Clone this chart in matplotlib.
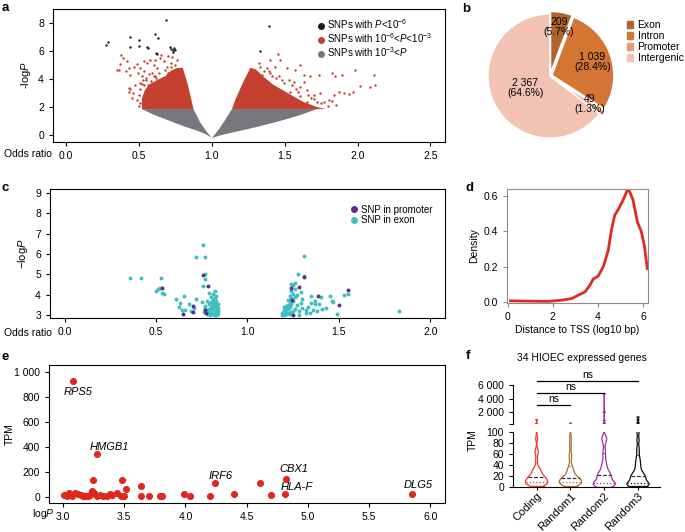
import numpy as np
import matplotlib
matplotlib.use('Agg')
from matplotlib import pyplot as plt
from matplotlib.patches import Patch
from matplotlib.lines import Line2D

plt.rcParams['font.family'] = ['Liberation Sans', 'DejaVu Sans']
plt.rcParams['mathtext.fontset'] = 'custom'
plt.rcParams['mathtext.rm'] = 'Liberation Sans'
plt.rcParams['mathtext.it'] = 'Liberation Sans:italic'
plt.rcParams['axes.linewidth'] = 0.8
plt.rcParams['xtick.major.width'] = 0.8
plt.rcParams['ytick.major.width'] = 0.8
plt.rcParams['xtick.major.size'] = 3
plt.rcParams['ytick.major.size'] = 3
plt.rcParams['xtick.labelsize'] = 7.5
plt.rcParams['ytick.labelsize'] = 7.5

# ---------------- data ----------------
# panel a: volcano plot (dense areas given as outlines, sparse points listed)
a_gray_x = [0.52, 0.60, 0.70, 0.80, 0.90, 0.96, 1.00, 1.05, 1.15, 1.30, 1.45, 1.60, 1.72,
            1.138, 1.08, 1.04, 1.00, 0.96, 0.92, 0.874]
a_gray_y = [1.85, 1.45, 1.05, 0.65, 0.30, 0.05, -0.22, -0.05, 0.20, 0.55, 0.95, 1.40, 1.85,
            1.85, 0.9, 0.3, -0.22, 0.3, 0.9, 1.85]
a_redL_x = [0.52, 0.52, 0.54, 0.57, 0.62, 0.68, 0.72, 0.76, 0.80, 0.815, 0.835, 0.855, 0.874]
a_redL_y = [1.85, 2.6, 3.2, 3.6, 3.9, 4.2, 4.6, 4.78, 4.8, 4.3, 3.6, 2.7, 1.85]
a_redR_x = [1.138, 1.16, 1.19, 1.22, 1.25, 1.264, 1.30, 1.35, 1.42, 1.52, 1.62, 1.72, 1.78]
a_redR_y = [1.85, 2.5, 3.2, 3.9, 4.5, 4.8, 4.7, 4.2, 3.6, 3.0, 2.4, 2.0, 1.85]
a_red_x = [0.375, 0.389, 0.371, 0.366, 0.421, 0.428, 0.412, 0.44, 0.467, 0.486, 0.508, 0.49,
           0.52, 0.536, 0.554, 0.577, 0.6, 0.623, 0.589, 0.549, 0.508, 0.474, 0.44, 0.462,
           0.497, 0.486, 0.508, 0.531, 0.611, 0.646, 0.673, 0.692, 0.719, 0.749, 0.76, 0.65,
           0.696, 0.726, 0.6, 0.565, 0.428, 0.451, 0.352, 0.43, 0.52, 0.53, 0.55, 0.58, 0.61,
           0.64, 0.66, 0.70, 0.72, 0.68, 0.62, 0.57, 0.51, 0.50, 0.535, 0.545,
           1.451, 1.47, 1.401, 1.321, 1.378, 1.435, 1.516, 1.573, 1.602, 1.63, 1.676, 1.733,
           1.825, 1.848, 1.894, 1.985, 2.111, 2.019, 2.083, 2.122, 1.968, 1.904, 1.836, 1.801,
           1.767, 1.722, 1.698, 1.653, 1.607, 1.561, 1.527, 1.493, 1.744, 1.825, 1.607, 1.653,
           1.538, 1.47, 1.63, 1.344, 1.413, 1.87, 1.939, 1.36, 1.40, 1.44, 1.48, 1.55, 1.58,
           1.66, 1.70, 1.75, 1.80, 1.85, 1.46, 1.33, 1.39, 1.59, 1.68]
a_red_y = [5.73, 5.49, 5.06, 4.66, 5.25, 4.78, 4.54, 4.30, 4.89, 5.06, 4.78, 4.42,
           4.18, 4.54, 5.13, 5.37, 5.01, 4.78, 4.42, 3.94, 3.70, 3.58, 3.30, 2.99,
           2.87, 2.51, 2.27, 5.25, 5.37, 5.49, 5.25, 4.89, 5.13, 5.01, 5.37, 5.73,
           5.61, 5.54, 4.18, 3.58, 3.10, 2.63, 4.66, 3.33, 3.65, 3.95, 4.05, 3.85, 4.20,
           4.45, 3.95, 4.40, 4.85, 4.65, 4.05, 4.35, 3.25, 2.05, 3.55, 3.15,
           5.78, 5.37, 5.37, 5.13, 4.78, 4.89, 4.78, 4.66, 5.01, 4.30, 4.18, 4.30,
           4.42, 4.18, 4.25, 4.61, 4.25, 3.53, 3.46, 3.58, 3.06, 2.99, 2.87, 2.51,
           2.34, 2.39, 2.87, 3.22, 3.46, 3.82, 3.94, 3.70, 2.99, 2.44, 2.75, 2.39,
           3.10, 3.22, 3.77, 4.30, 4.18, 3.06, 2.92, 4.55, 4.45, 4.05, 3.90, 3.60, 3.30,
           2.85, 2.55, 2.25, 2.05, 2.15, 4.20, 4.85, 4.60, 3.05, 2.65]
a_black_x = [0.272, 0.286, 0.435, 0.44, 0.50, 0.50, 0.558, 0.56, 0.611, 0.632, 0.62, 0.625,
             0.685, 0.71, 0.72, 0.73, 0.74, 0.735, 0.745, 1.39, 1.33]
a_black_y = [6.45, 6.61, 6.97, 6.25, 6.76, 6.33, 6.30, 6.20, 7.21, 6.93, 5.85, 5.75,
             8.24, 6.30, 6.15, 6.05, 6.20, 5.95, 6.05, 7.76, 5.97]

# panel b: pie
b_labels = ['Exon', 'Intron', 'Promoter', 'Intergenic']
b_counts = [209, 1039, 49, 2367]
b_pct = [5.7, 28.4, 1.3, 64.6]

# panel c: SNPs in promoter / exon
c_exon_x = [0.83, 0.82, 0.84, 0.81, 0.80, 0.83, 0.79, 0.82, 0.84, 0.80, 0.78, 0.83, 0.81, 0.79,
            0.84, 0.82, 0.80, 0.83, 0.77, 0.81, 0.84, 0.79, 0.82, 0.80, 0.83, 0.78, 0.81, 0.82,
            0.80, 0.83, 0.81, 0.79, 0.82, 0.80, 0.78, 0.76, 0.77, 0.82, 0.835, 0.805, 0.795,
            0.356, 0.42, 0.528, 0.502, 0.542, 0.52, 0.51, 0.535, 0.608, 0.623, 0.654, 0.66,
            0.72, 0.749, 0.758, 0.718, 0.768, 0.77, 0.77, 0.755, 0.69, 0.64, 0.68, 0.71, 0.63,
            1.19, 1.20, 1.21, 1.19, 1.22, 1.20, 1.23, 1.24, 1.21, 1.20, 1.22, 1.25, 1.21, 1.23,
            1.26, 1.22, 1.24, 1.21, 1.23, 1.25, 1.22, 1.24, 1.26, 1.23, 1.25, 1.24, 1.26, 1.25,
            1.26, 1.27, 1.28, 1.29, 1.27, 1.30, 1.28, 1.32, 1.30, 1.33, 1.35, 1.36, 1.38, 1.37,
            1.39, 1.29, 1.20,
            1.31, 1.275, 1.31, 1.24, 1.35, 1.40, 1.45, 1.47, 1.49, 1.53, 1.55, 1.826, 1.32,
            1.34, 1.37, 1.46, 1.41, 1.43]
c_exon_y = [3.00, 3.02, 3.05, 3.05, 3.08, 3.10, 3.12, 3.15, 3.18, 3.20, 3.22, 3.25, 3.28, 3.30,
            3.32, 3.36, 3.40, 3.45, 3.45, 3.50, 3.55, 3.55, 3.60, 3.65, 3.70, 3.70, 3.75, 3.85,
            3.90, 3.95, 4.05, 4.10, 4.20, 3.35, 3.05, 3.15, 3.30, 3.00, 3.40, 3.60, 3.00,
            4.81, 4.81, 4.81, 4.20, 4.05, 4.35, 4.30, 4.10, 3.77, 3.40, 3.93, 3.25,
            3.80, 3.66, 6.45, 5.84, 5.84, 5.00, 4.75, 4.42, 3.20, 3.25, 3.55, 3.35, 3.60,
            3.00, 3.02, 3.05, 3.08, 3.10, 3.15, 3.05, 3.12, 3.20, 3.25, 3.30, 3.20, 3.35, 3.40,
            3.30, 3.50, 3.55, 3.45, 3.65, 3.70, 3.75, 3.85, 3.90, 3.95, 4.05, 4.20, 4.30, 4.45,
            4.55, 3.50, 3.20, 3.60, 4.00, 3.35, 3.00, 3.10, 3.80, 3.40, 3.60, 3.25, 3.20, 3.70,
            3.55, 4.15, 3.38,
            5.90, 5.00, 4.92, 4.50, 3.93, 3.90, 3.93, 3.66, 3.05, 4.00, 4.05, 3.20, 3.25,
            3.08, 3.55, 3.70, 3.30, 3.35]
c_prom_x = [0.53, 0.758, 0.784, 0.703, 0.648, 0.70, 0.767, 0.772,
            1.237, 1.279, 1.31, 1.242, 1.383, 1.50, 1.552, 1.25]
c_prom_y = [4.31, 4.97, 4.40, 3.45, 3.05, 3.12, 3.24, 3.08,
            4.31, 4.36, 4.86, 3.74, 3.94, 3.49, 4.22, 2.99]

# panel d: density of distance to TSS
d_x = [0.12, 0.6, 1.2, 1.8, 2.4, 2.84, 3.13, 3.43, 3.65, 3.79, 4.01, 4.24, 4.46, 4.6,
       4.75, 4.93, 5.12, 5.31, 5.41, 5.56, 5.75, 5.93, 6.07, 6.19]
d_y = [0.006, 0.005, 0.004, 0.003, 0.010, 0.019, 0.038, 0.057, 0.095, 0.129, 0.146, 0.199,
       0.293, 0.407, 0.492, 0.530, 0.577, 0.634, 0.625, 0.577, 0.454, 0.397, 0.312, 0.189]

# panel e: TPM vs logP
e_logp = [3.084, 3.28, 4.243, 4.823, 4.815, 5.854, 4.61, 4.70, 4.40, 4.20, 4.04, 3.99,
          3.81, 3.79, 3.70, 3.64, 3.64, 3.515, 3.48, 3.50, 3.44, 3.38, 3.36, 3.33, 3.28,
          3.25, 3.24, 3.245, 3.18, 3.15, 3.10, 3.05, 3.01, 3.03, 3.07, 3.12, 3.20, 3.30,
          3.40, 3.47, 3.16, 3.22]
e_tpm = [925, 345, 110, 141, 21, 27, 112, 16, 21, 5, 5, 22,
         10, 10, 12, 88, 5, 66, 136, 12, 30, 21, 10, 8, 12,
         30, 48, 136, 5, 20, 30, 30, 15, 12, 10, 22, 8, 14,
         18, 10, 6, 18]
e_names = ['RPS5', 'HMGB1', 'IRF6', 'CBX1', 'HLA-F', 'DLG5']

# panel f: violin data (TPM of 34 genes per group)
f_groups = ['Coding', 'Random1', 'Random2', 'Random3']
f_coding = [2, 3, 4, 5, 5, 6, 7, 8, 9, 10, 10, 12, 13, 15, 16, 17, 17, 18, 20, 22, 25, 28,
            30, 32, 35, 48, 62, 66, 88, 110, 136, 141, 345, 920]
f_random1 = [1, 2, 3, 4, 5, 6, 7, 8, 8, 9, 10, 11, 12, 13, 14, 15, 15, 16, 18, 20, 22, 25,
             28, 30, 34, 40, 52, 60, 75, 90, 120, 180, 300, 420]
f_random2 = [0.5, 1, 2, 3, 4, 5, 5, 6, 7, 8, 10, 12, 14, 16, 18, 20, 21, 23, 25, 28, 30, 35,
             40, 45, 55, 65, 80, 88, 90, 150, 400, 800, 2000, 4700]
f_random3 = [1, 2, 2, 3, 4, 4, 5, 5, 6, 8, 10, 12, 14, 16, 18, 19, 20, 21, 24, 27, 30, 35,
             40, 45, 50, 60, 70, 85, 100, 150, 300, 500, 900, 1300]

RED = '#c4412f'
GRAY = '#77777d'

def thousands(v):
    return '{:,}'.format(int(v)).replace(',', ' ')

fig = plt.figure(figsize=(6.85, 5.32), dpi=100)

# ---------------- a ----------------
ax = fig.add_axes([0.0774, 0.7331, 0.5723, 0.25])
ax.fill(a_gray_x, a_gray_y, color=GRAY, lw=0)
ax.fill(a_redL_x, a_redL_y, color=RED, lw=0)
ax.fill(a_redR_x, a_redR_y, color=RED, lw=0)
ax.scatter(a_red_x, a_red_y, s=3, color=RED, lw=0)
ax.scatter(a_black_x, a_black_y, s=3, color='#1a1a1a', lw=0)
ax.set_xlim(-0.09, 2.60)
ax.set_ylim(-0.5, 9.0)
ax.set_xticks([0, 0.5, 1.0, 1.5, 2.0, 2.5])
ax.set_xticklabels(['0.0', '0.5', '1.0', '1.5', '2.0', '2.5'])
ax.set_yticks([0, 2, 4, 6, 8])
ax.set_ylabel('-log$\\it{P}$', fontsize=8, labelpad=4)
h = [Line2D([], [], ls='', marker='o', ms=4, color=c) for c in ['#1a1a1a', RED, GRAY]]
ax.legend(h, ['SNPs with $\\it{P}$<10$^{-6}$', 'SNPs with 10$^{-6}$<$\\it{P}$<10$^{-3}$',
              'SNPs with 10$^{-3}$<$\\it{P}$'],
          loc='upper right', bbox_to_anchor=(0.985, 0.99), frameon=False, fontsize=7,
          handletextpad=0.1, labelspacing=0.05, borderpad=0.2, handlelength=1.2)
fig.text(52 / 685, 1 - 154 / 532, 'Odds ratio', ha='right', va='center', fontsize=7.5)

# ---------------- b ----------------
bx = fig.add_axes([(550 - 66) / 685, 1 - (76 + 66) / 532, 132 / 685, 132 / 532])
b_colors = ['#b3622b', '#d57534', '#e8997a', '#f2c2b3']
wedges, _ = bx.pie(b_counts, colors=b_colors, startangle=90, counterclock=False,
                   explode=[0.04, 0.03, 0.05, 0], radius=0.97,
                   wedgeprops=dict(edgecolor='white', linewidth=1.2))
bx.set_aspect('equal')
bx.set_xlim(-1.03, 1.03)
bx.set_ylim(-1.03, 1.03)
label_r = [0.78, 0.70, 0.76, 0.43]
for w, n, p, r in zip(wedges, b_counts, b_pct, label_r):
    ang = np.deg2rad((w.theta1 + w.theta2) / 2)
    bx.text(r * np.cos(ang), r * np.sin(ang), thousands(n) + '\n(' + str(p) + '%)',
            ha='center', va='center', fontsize=7.5, linespacing=1.0)
fig.legend([Patch(color=c) for c in b_colors], b_labels, loc='upper left',
           bbox_to_anchor=(622 / 685, 1 - 15 / 532), frameon=False, fontsize=7.5,
           handlelength=0.6, handleheight=0.6, handletextpad=0.4, labelspacing=0.1,
           borderpad=0)

# ---------------- c ----------------
cx = fig.add_axes([0.073, 0.4023, 0.5766, 0.2425])
cx.scatter(c_exon_x, c_exon_y, s=8, color='#3fbfbf', lw=0)
cx.scatter(c_prom_x, c_prom_y, s=8, color='#5b2e91', lw=0)
cx.set_xlim(-0.08, 2.08)
cx.set_ylim(2.85, 9.2)
cx.set_xticks([0, 0.5, 1.0, 1.5, 2.0])
cx.set_xticklabels(['0.0', '0.5', '1.0', '1.5', '2.0'])
cx.set_yticks([3, 4, 5, 6, 7, 8, 9])
cx.set_ylabel('\u2212log$\\it{P}$', fontsize=8, labelpad=4)
h = [Line2D([], [], ls='', marker='o', ms=4, color=c) for c in ['#5b2e91', '#3fbfbf']]
cx.legend(h, ['SNP in promoter', 'SNP in exon'], loc='upper right',
          bbox_to_anchor=(0.985, 0.93), frameon=False, fontsize=7,
          handletextpad=0.1, labelspacing=0.05, borderpad=0.2, handlelength=1.2)
fig.text(52 / 685, 1 - 333 / 532, 'Odds ratio', ha='right', va='center', fontsize=7.5)

# ---------------- d ----------------
dx = fig.add_axes([0.7401, 0.4305, 0.2058, 0.2143])
dx.plot(d_x, d_y, color='#e32a22', lw=2)
dx.set_xlim(-0.03, 6.22)
dx.set_ylim(-0.006, 0.64)
dx.set_xticks([0, 2, 4, 6])
dx.set_yticks([0, 0.2, 0.4, 0.6])
dx.set_yticklabels(['0.0', '0.2', '0.4', '0.6'])
for s in dx.spines.values():
    s.set_color('#8c8c8c')
dx.tick_params(color='#8c8c8c')
dx.set_xlabel('Distance to TSS (log10 bp)', fontsize=7.5, labelpad=2)
dx.set_ylabel('Density', fontsize=7.5, labelpad=3)

# ---------------- e ----------------
ex = fig.add_axes([0.0715, 0.0545, 0.578, 0.2594])
ex.scatter(e_logp, e_tpm, s=26, color='#e0261e', lw=0, zorder=3)
ex.set_xlim(2.885, 6.12)
ex.set_ylim(-48, 1056)
ex.set_xticks([3.0, 3.5, 4.0, 4.5, 5.0, 5.5, 6.0])
ex.set_xticklabels(['3.0', '3.5', '4.0', '4.5', '5.0', '5.5', '6.0'])
ex.set_yticks([0, 200, 400, 600, 800, 1000])
ex.set_yticklabels([thousands(v) for v in [0, 200, 400, 600, 800, 1000]])
ex.set_ylabel('TPM', fontsize=7.5)
ex.yaxis.set_label_coords(-0.085, 0.5)
offsets = [(3.4, -8), (8.4, 5), (4, 5), (5.3, 7.2), (8, 5.5), (4.5, 6.3)]
for name, off in zip(e_names, offsets):
    i = e_names.index(name)
    ex.annotate(name, (e_logp[i], e_tpm[i]), xytext=off, textcoords='offset points',
                ha='center', va='center', fontsize=8, style='italic')
fig.text(55 / 685, 1 - 514 / 532, 'log$\\it{P}$', ha='right', va='center', fontsize=7.5)

# ---------------- f ----------------
f_data = [f_coding, f_random1, f_random2, f_random3]
f_colors = ['#e8392a', '#b06a30', '#a12aa3', '#111111']
fb = fig.add_axes([0.7489, 0.0846, 0.2146, 0.1034])
ft = fig.add_axes([0.7489, 0.203, 0.2146, 0.0733])
for axf in (fb, ft):
    for i, (vals, col) in enumerate(zip(f_data, f_colors)):
        vals = np.array(vals, dtype=float)
        grid = np.linspace(vals.min(), vals.max(), 8000)
        dens = np.exp(-0.5 * ((grid[:, None] - vals[None, :]) / 5.0) ** 2).sum(1)
        dens = dens / dens.max() * 0.33
        axf.plot(i - dens, grid, color=col, lw=0.9)
        axf.plot(i + dens, grid, color=col, lw=0.9)
        axf.plot([i - dens[0], i + dens[0]], [grid[0], grid[0]], color=col, lw=0.9)
        q1, med, q3 = np.percentile(vals, [25, 50, 75])
        for q, ls, c in [(med, (0, (3, 1.5)), '#333333'), (q1, ':', col), (q3, ':', col)]:
            w = np.interp(q, grid, dens)
            axf.plot([i - w, i + w], [q, q], color=c, ls=ls, lw=0.9)
    axf.set_xlim(-0.7, 3.65)
    axf.spines['top'].set_visible(False)
    axf.spines['right'].set_visible(False)
fb.set_ylim(0, 100)
fb.set_yticks([0, 20, 40, 60, 80, 100])
fb.set_xticks(range(4))
fb.set_xticklabels(f_groups, rotation=45, ha='right', va='top', rotation_mode='anchor',
                   fontsize=8)
fb.tick_params(axis='x', length=2, pad=1)
ft.set_ylim(280, 6000)
ft.set_yticks([280, 2000, 4000, 6000])
ft.set_yticklabels(['', '2 000', '4 000', '6 000'])
ft.spines['bottom'].set_visible(False)
ft.set_xticks([])
# significance bars
for j, yb in zip([1, 2, 3], [3070, 4830, 6560]):
    ft.plot([0, j], [yb, yb], color='k', lw=0.9, clip_on=False)
    ft.text(j / 2, yb + 200, 'ns', ha='center', va='bottom', fontsize=7.5, clip_on=False)
fig.text(582 / 685, 1 - 358 / 532, '34 HIOEC expressed genes', ha='center', va='center',
         fontsize=7.5)
fig.text(473 / 685, 1 - 440 / 532, 'TPM', ha='center', va='center', rotation=90, fontsize=7.5)

# panel letters
for letter, x, y in [('a', 2, 8), ('b', 462, 9), ('c', 2, 188), ('d', 466, 188),
                     ('e', 2, 357), ('f', 466, 356)]:
    fig.text(x / 685, 1 - y / 532, letter, fontsize=9.5, fontweight='bold', va='center')

plt.savefig('out.png', dpi=100)
